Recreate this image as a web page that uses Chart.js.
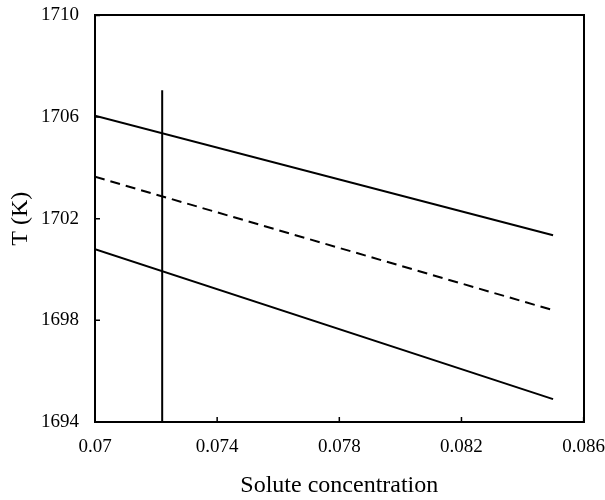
<!DOCTYPE html>
<html>
<head>
<meta charset="utf-8">
<script src="https://cdn.jsdelivr.net/npm/chart.js@4.4.1/dist/chart.umd.min.js"></script>
<style>
  html,body{margin:0;padding:0;background:#fff;}
  #wrap{width:605px;height:500px;}
</style>
</head>
<body>
<div id="wrap"><canvas id="myChart"></canvas></div>
<script>
// data
var concEnds = [0.07, 0.085]
var upperT = [1706.05, 1701.35]
var midT = [1703.65, 1698.4]
var lowerT = [1700.8, 1694.9]
var markerConc = [0.0722, 0.0722]
var markerT = [1694, 1707.05]
var xTickVals = [0.07, 0.074, 0.078, 0.082, 0.086]
var yTickVals = [1694, 1698, 1702, 1706, 1710]

function pts(xs, ys){
    return xs.map(function(x, i){ return {x: x, y: ys[i]} })
}

//inward tick marks
var innerTicks = {
    id: 'innerTicks',
    afterDraw: function(chart){
        var c = chart.ctx
        var xs = chart.scales.x, ys = chart.scales.y
        var a = chart.chartArea
        c.save()
        c.strokeStyle = '#000'
        c.lineWidth = 1.5
        c.beginPath()
        xTickVals.forEach(function(v){
            var px = xs.getPixelForValue(v)
            c.moveTo(px, a.bottom)
            c.lineTo(px, a.bottom - 5)
        })
        yTickVals.forEach(function(v){
            var py = ys.getPixelForValue(v)
            c.moveTo(a.left, py)
            c.lineTo(a.left + 5, py)
        })
        c.stroke()
        c.restore()
    }
}

var lineStyle = {showLine: true, pointRadius: 0, borderColor: '#000', borderWidth: 2, fill: false}
// invisible outer ticks used only as a gap between axis and labels
var gapGrid = function(len){
    return {display: true, drawOnChartArea: false, drawTicks: true, tickLength: len, color: 'rgba(0,0,0,0)'}
}

var ctx = document.getElementById('myChart')

new Chart(ctx, {
    type: 'scatter',
    data: {
        datasets: [
            Object.assign({label: 'upper', data: pts(concEnds, upperT)}, lineStyle),
            Object.assign({label: 'mid', data: pts(concEnds, midT), borderDash: [10, 6]}, lineStyle),
            Object.assign({label: 'lower', data: pts(concEnds, lowerT)}, lineStyle),
            Object.assign({label: 'marker', data: pts(markerConc, markerT)}, lineStyle)
        ]
    },
    options: {
        responsive: true,
        maintainAspectRatio: false,
        animation: false,
        events: [],
        layout: {padding: {top: 0, right: 0, bottom: 0, left: 0}},
        plugins: {legend: {display: false}, tooltip: {enabled: false}},
        scales: {
            x: {
                type: 'linear', min: 0.07, max: 0.086,
                afterBuildTicks: function(s){ s.ticks = xTickVals.map(function(v){ return {value: v} }) },
                afterFit: function(s){ s.height = 78 },
                grid: gapGrid(14),
                border: {display: true, color: '#000', width: 2},
                ticks: {
                    color: '#000', padding: 0, maxRotation: 0,
                    font: {family: 'Liberation Serif', size: 19},
                    callback: function(v){ return String(v) }
                },
                title: {display: true, text: 'Solute concentration', color: '#000',
                    font: {family: 'Liberation Serif', size: 24}, padding: {top: 0, bottom: 0}}
            },
            y: {
                type: 'linear', min: 1694, max: 1710,
                afterBuildTicks: function(s){ s.ticks = yTickVals.map(function(v){ return {value: v} }) },
                afterFit: function(s){ s.width = 95 },
                grid: gapGrid(12),
                border: {display: true, color: '#000', width: 2},
                ticks: {
                    color: '#000', padding: 4,
                    font: {family: 'Liberation Serif', size: 19},
                    callback: function(v){ return String(v) }
                },
                title: {display: true, text: 'T (K)', color: '#000',
                    font: {family: 'Liberation Serif', size: 24}, padding: {top: 6, bottom: 6}}
            },
            x2: {
                type: 'linear', position: 'top', min: 0.07, max: 0.086,
                afterFit: function(s){ s.height = 0 },
                grid: {display: false, drawTicks: false},
                border: {display: true, color: '#000', width: 2},
                ticks: {display: false}
            },
            y2: {
                type: 'linear', position: 'right', min: 1694, max: 1710,
                afterFit: function(s){ s.width = 0 },
                grid: {display: false, drawTicks: false},
                border: {display: true, color: '#000', width: 2},
                ticks: {display: false}
            }
        }
    },
    plugins: [innerTicks]
})
</script>
</body>
</html>
